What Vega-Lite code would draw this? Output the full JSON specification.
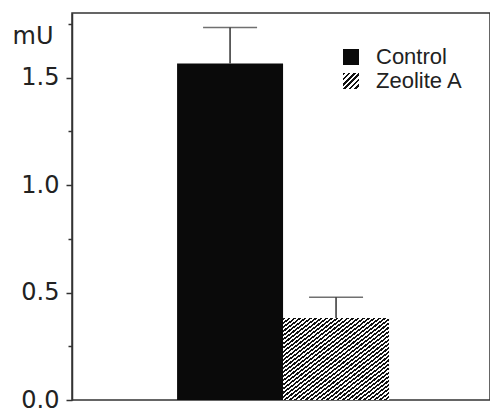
{
  "$schema": "https://vega.github.io/schema/vega-lite/v6.json",
  "width": 418,
  "height": 387,
  "autosize": "none",
  "padding": {"left": 72, "top": 13, "right": 0, "bottom": 16},
  "background": "white",
  "data": {"values": [
    {"group": "Control", "mean": 1.565, "upper": 1.733},
    {"group": "Zeolite A", "mean": 0.381, "upper": 0.478}
  ]},
  "encoding": {
    "x": {"field": "group", "type": "nominal", "scale": {"domain": ["Control", "Zeolite A"], "paddingInner": 0, "paddingOuter": 0.972, "align": 0.51}, "axis": null}
  },
  "layer": [
    {
      "mark": {"type": "bar"},
      "encoding": {
        "y": {"field": "mean", "type": "quantitative", "scale": {"domain": [0, 1.8], "nice": false},
          "axis": {
            "values": [0, 0.25, 0.5, 0.75, 1, 1.25, 1.5, 1.75],
            "labelExpr": "datum.value % 0.5 === 0 ? format(datum.value, '.1f') : ''",
            "tickSize": {"condition": {"test": "datum.value % 0.5 === 0", "value": 6}, "value": 4},
            "grid": false, "domainColor": "#333", "domainWidth": 1.5, "tickColor": "#333", "tickWidth": 1.5,
            "labelPadding": 7, "labelOverlap": false, "labelFlush": false,
            "labelFont": "DejaVu Sans", "labelFontSize": 24, "labelColor": "#222",
            "title": "mU", "titleAngle": 0, "titleAlign": "left", "titleBaseline": "alphabetic",
            "titleX": -60, "titleY": 30, "titleFont": "DejaVu Sans", "titleFontSize": 24, "titleFontWeight": "normal", "titleColor": "#222"
          }},
        "opacity": {
          "field": "group", "type": "ordinal",
          "scale": {"domain": ["Control", "Zeolite A"], "range": [1, 1]},
          "legend": {
            "title": null, "orient": "none", "legendX": 268, "legendY": 33,
            "symbolType": "square", "symbolSize": 256, "symbolStrokeWidth": 0, "symbolOpacity": 1,
            "labelFont": "Liberation Sans", "labelFontSize": 22, "labelColor": "#222",
            "labelOffset": 14, "rowPadding": 2,
            "encoding": {"symbols": {"fill": {"condition": {"test": "datum.value === 'Zeolite A'", "value":
              {"gradient": "linear", "x1": 0, "y1": 0, "x2": 1, "y2": 1, "stops": [
                {"offset": 0, "color": "#111"},
                {"offset": 0.0833, "color": "#111"}, {"offset": 0.0833, "color": "#fff"},
                {"offset": 0.1667, "color": "#fff"}, {"offset": 0.1667, "color": "#111"},
                {"offset": 0.25, "color": "#111"}, {"offset": 0.25, "color": "#fff"},
                {"offset": 0.3333, "color": "#fff"}, {"offset": 0.3333, "color": "#111"},
                {"offset": 0.4167, "color": "#111"}, {"offset": 0.4167, "color": "#fff"},
                {"offset": 0.5, "color": "#fff"}, {"offset": 0.5, "color": "#111"},
                {"offset": 0.5833, "color": "#111"}, {"offset": 0.5833, "color": "#fff"},
                {"offset": 0.6667, "color": "#fff"}, {"offset": 0.6667, "color": "#111"},
                {"offset": 0.75, "color": "#111"}, {"offset": 0.75, "color": "#fff"},
                {"offset": 0.8333, "color": "#fff"}, {"offset": 0.8333, "color": "#111"},
                {"offset": 0.9167, "color": "#111"}, {"offset": 0.9167, "color": "#fff"},
                {"offset": 1, "color": "#fff"}
              ]}}, "value": "#0a0a0a"}}}
          }
        },
        "fill": {
          "condition": {"test": "datum.group === 'Zeolite A'", "value":
          {"gradient": "linear", "x1": 0, "y1": 0, "x2": 1, "y2": 1, "stops": [
            {"offset": 0, "color": "#111"},
            {"offset": 0.0125, "color": "#111"}, {"offset": 0.0125, "color": "#fff"},
            {"offset": 0.025, "color": "#fff"}, {"offset": 0.025, "color": "#111"},
            {"offset": 0.0375, "color": "#111"}, {"offset": 0.0375, "color": "#fff"},
            {"offset": 0.05, "color": "#fff"}, {"offset": 0.05, "color": "#111"},
            {"offset": 0.0625, "color": "#111"}, {"offset": 0.0625, "color": "#fff"},
            {"offset": 0.075, "color": "#fff"}, {"offset": 0.075, "color": "#111"},
            {"offset": 0.0875, "color": "#111"}, {"offset": 0.0875, "color": "#fff"},
            {"offset": 0.1, "color": "#fff"}, {"offset": 0.1, "color": "#111"},
            {"offset": 0.1125, "color": "#111"}, {"offset": 0.1125, "color": "#fff"},
            {"offset": 0.125, "color": "#fff"}, {"offset": 0.125, "color": "#111"},
            {"offset": 0.1375, "color": "#111"}, {"offset": 0.1375, "color": "#fff"},
            {"offset": 0.15, "color": "#fff"}, {"offset": 0.15, "color": "#111"},
            {"offset": 0.1625, "color": "#111"}, {"offset": 0.1625, "color": "#fff"},
            {"offset": 0.175, "color": "#fff"}, {"offset": 0.175, "color": "#111"},
            {"offset": 0.1875, "color": "#111"}, {"offset": 0.1875, "color": "#fff"},
            {"offset": 0.2, "color": "#fff"}, {"offset": 0.2, "color": "#111"},
            {"offset": 0.2125, "color": "#111"}, {"offset": 0.2125, "color": "#fff"},
            {"offset": 0.225, "color": "#fff"}, {"offset": 0.225, "color": "#111"},
            {"offset": 0.2375, "color": "#111"}, {"offset": 0.2375, "color": "#fff"},
            {"offset": 0.25, "color": "#fff"}, {"offset": 0.25, "color": "#111"},
            {"offset": 0.2625, "color": "#111"}, {"offset": 0.2625, "color": "#fff"},
            {"offset": 0.275, "color": "#fff"}, {"offset": 0.275, "color": "#111"},
            {"offset": 0.2875, "color": "#111"}, {"offset": 0.2875, "color": "#fff"},
            {"offset": 0.3, "color": "#fff"}, {"offset": 0.3, "color": "#111"},
            {"offset": 0.3125, "color": "#111"}, {"offset": 0.3125, "color": "#fff"},
            {"offset": 0.325, "color": "#fff"}, {"offset": 0.325, "color": "#111"},
            {"offset": 0.3375, "color": "#111"}, {"offset": 0.3375, "color": "#fff"},
            {"offset": 0.35, "color": "#fff"}, {"offset": 0.35, "color": "#111"},
            {"offset": 0.3625, "color": "#111"}, {"offset": 0.3625, "color": "#fff"},
            {"offset": 0.375, "color": "#fff"}, {"offset": 0.375, "color": "#111"},
            {"offset": 0.3875, "color": "#111"}, {"offset": 0.3875, "color": "#fff"},
            {"offset": 0.4, "color": "#fff"}, {"offset": 0.4, "color": "#111"},
            {"offset": 0.4125, "color": "#111"}, {"offset": 0.4125, "color": "#fff"},
            {"offset": 0.425, "color": "#fff"}, {"offset": 0.425, "color": "#111"},
            {"offset": 0.4375, "color": "#111"}, {"offset": 0.4375, "color": "#fff"},
            {"offset": 0.45, "color": "#fff"}, {"offset": 0.45, "color": "#111"},
            {"offset": 0.4625, "color": "#111"}, {"offset": 0.4625, "color": "#fff"},
            {"offset": 0.475, "color": "#fff"}, {"offset": 0.475, "color": "#111"},
            {"offset": 0.4875, "color": "#111"}, {"offset": 0.4875, "color": "#fff"},
            {"offset": 0.5, "color": "#fff"}, {"offset": 0.5, "color": "#111"},
            {"offset": 0.5125, "color": "#111"}, {"offset": 0.5125, "color": "#fff"},
            {"offset": 0.525, "color": "#fff"}, {"offset": 0.525, "color": "#111"},
            {"offset": 0.5375, "color": "#111"}, {"offset": 0.5375, "color": "#fff"},
            {"offset": 0.55, "color": "#fff"}, {"offset": 0.55, "color": "#111"},
            {"offset": 0.5625, "color": "#111"}, {"offset": 0.5625, "color": "#fff"},
            {"offset": 0.575, "color": "#fff"}, {"offset": 0.575, "color": "#111"},
            {"offset": 0.5875, "color": "#111"}, {"offset": 0.5875, "color": "#fff"},
            {"offset": 0.6, "color": "#fff"}, {"offset": 0.6, "color": "#111"},
            {"offset": 0.6125, "color": "#111"}, {"offset": 0.6125, "color": "#fff"},
            {"offset": 0.625, "color": "#fff"}, {"offset": 0.625, "color": "#111"},
            {"offset": 0.6375, "color": "#111"}, {"offset": 0.6375, "color": "#fff"},
            {"offset": 0.65, "color": "#fff"}, {"offset": 0.65, "color": "#111"},
            {"offset": 0.6625, "color": "#111"}, {"offset": 0.6625, "color": "#fff"},
            {"offset": 0.675, "color": "#fff"}, {"offset": 0.675, "color": "#111"},
            {"offset": 0.6875, "color": "#111"}, {"offset": 0.6875, "color": "#fff"},
            {"offset": 0.7, "color": "#fff"}, {"offset": 0.7, "color": "#111"},
            {"offset": 0.7125, "color": "#111"}, {"offset": 0.7125, "color": "#fff"},
            {"offset": 0.725, "color": "#fff"}, {"offset": 0.725, "color": "#111"},
            {"offset": 0.7375, "color": "#111"}, {"offset": 0.7375, "color": "#fff"},
            {"offset": 0.75, "color": "#fff"}, {"offset": 0.75, "color": "#111"},
            {"offset": 0.7625, "color": "#111"}, {"offset": 0.7625, "color": "#fff"},
            {"offset": 0.775, "color": "#fff"}, {"offset": 0.775, "color": "#111"},
            {"offset": 0.7875, "color": "#111"}, {"offset": 0.7875, "color": "#fff"},
            {"offset": 0.8, "color": "#fff"}, {"offset": 0.8, "color": "#111"},
            {"offset": 0.8125, "color": "#111"}, {"offset": 0.8125, "color": "#fff"},
            {"offset": 0.825, "color": "#fff"}, {"offset": 0.825, "color": "#111"},
            {"offset": 0.8375, "color": "#111"}, {"offset": 0.8375, "color": "#fff"},
            {"offset": 0.85, "color": "#fff"}, {"offset": 0.85, "color": "#111"},
            {"offset": 0.8625, "color": "#111"}, {"offset": 0.8625, "color": "#fff"},
            {"offset": 0.875, "color": "#fff"}, {"offset": 0.875, "color": "#111"},
            {"offset": 0.8875, "color": "#111"}, {"offset": 0.8875, "color": "#fff"},
            {"offset": 0.9, "color": "#fff"}, {"offset": 0.9, "color": "#111"},
            {"offset": 0.9125, "color": "#111"}, {"offset": 0.9125, "color": "#fff"},
            {"offset": 0.925, "color": "#fff"}, {"offset": 0.925, "color": "#111"},
            {"offset": 0.9375, "color": "#111"}, {"offset": 0.9375, "color": "#fff"},
            {"offset": 0.95, "color": "#fff"}, {"offset": 0.95, "color": "#111"},
            {"offset": 0.9625, "color": "#111"}, {"offset": 0.9625, "color": "#fff"},
            {"offset": 0.975, "color": "#fff"}, {"offset": 0.975, "color": "#111"},
            {"offset": 0.9875, "color": "#111"}, {"offset": 0.9875, "color": "#fff"},
            {"offset": 1, "color": "#fff"}
          ]}}, "value": "#0a0a0a"
        }
      }
    },
    {
      "mark": {"type": "rule", "color": "#333", "strokeWidth": 1.5},
      "encoding": {
        "y": {"field": "mean", "type": "quantitative"},
        "y2": {"field": "upper"}
      }
    },
    {
      "mark": {"type": "tick", "color": "#333", "thickness": 1.5, "size": 54},
      "encoding": {
        "y": {"field": "upper", "type": "quantitative"}
      }
    }
  ],
  "config": {
    "view": {"stroke": "#333", "strokeWidth": 1.5}
  }
}
